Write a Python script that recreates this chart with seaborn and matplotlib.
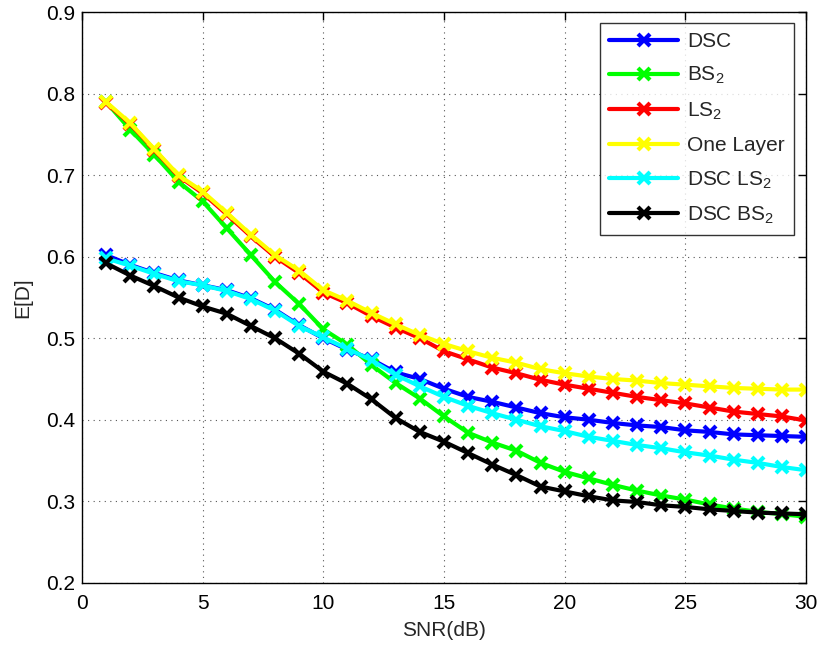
import numpy as np
import pandas as pd
import matplotlib
matplotlib.use("Agg")
import matplotlib.pyplot as plt
import seaborn as sns

snr = list(range(1, 31))
dsc = [0.602, 0.590, 0.580, 0.571, 0.565, 0.559, 0.549, 0.535, 0.516, 0.500, 0.486, 0.474, 0.458, 0.450, 0.438, 0.428, 0.422, 0.415, 0.408, 0.403, 0.400, 0.396, 0.393, 0.391, 0.387, 0.385, 0.382, 0.381, 0.380, 0.379]
bs2 = [0.790, 0.756, 0.725, 0.692, 0.668, 0.635, 0.602, 0.569, 0.542, 0.511, 0.492, 0.467, 0.445, 0.426, 0.404, 0.384, 0.372, 0.362, 0.347, 0.336, 0.328, 0.320, 0.313, 0.307, 0.302, 0.296, 0.291, 0.287, 0.284, 0.281]
ls2 = [0.789, 0.763, 0.731, 0.699, 0.678, 0.652, 0.625, 0.600, 0.580, 0.556, 0.543, 0.527, 0.513, 0.500, 0.484, 0.474, 0.464, 0.457, 0.449, 0.443, 0.438, 0.433, 0.428, 0.424, 0.420, 0.415, 0.410, 0.407, 0.404, 0.399]
one_layer = [0.790, 0.764, 0.732, 0.700, 0.680, 0.654, 0.627, 0.602, 0.583, 0.559, 0.546, 0.531, 0.517, 0.504, 0.493, 0.484, 0.476, 0.470, 0.462, 0.457, 0.453, 0.450, 0.448, 0.445, 0.443, 0.441, 0.439, 0.438, 0.437, 0.437]
dsc_ls2 = [0.598, 0.589, 0.579, 0.570, 0.565, 0.558, 0.548, 0.534, 0.515, 0.501, 0.487, 0.473, 0.455, 0.441, 0.428, 0.417, 0.408, 0.400, 0.392, 0.386, 0.379, 0.374, 0.369, 0.365, 0.360, 0.356, 0.351, 0.347, 0.342, 0.338]
dsc_bs2 = [0.592, 0.577, 0.564, 0.550, 0.539, 0.530, 0.515, 0.500, 0.481, 0.459, 0.444, 0.425, 0.402, 0.385, 0.373, 0.359, 0.345, 0.332, 0.318, 0.312, 0.306, 0.301, 0.299, 0.295, 0.293, 0.290, 0.288, 0.286, 0.285, 0.284]

labels = ["DSC", "BS$_2$", "LS$_2$", "One Layer", "DSC LS$_2$", "DSC BS$_2$"]
series = [dsc, bs2, ls2, one_layer, dsc_ls2, dsc_bs2]
colors = ["#0000ff", "#00ff00", "#ff0000", "#ffff00", "#00ffff", "#000000"]

xticks = [0, 5, 10, 15, 20, 25, 30]
yticks = [0.2, 0.3, 0.4, 0.5, 0.6, 0.7, 0.8, 0.9]

df = pd.concat([pd.DataFrame({"snr": snr, "val": s, "name": l}) for s, l in zip(series, labels)], ignore_index=True)

sns.set_theme(style="white")
plt.rcParams["font.family"] = ["Liberation Sans", "DejaVu Sans"]
plt.rcParams["mathtext.default"] = "regular"

fig = plt.figure(figsize=(8.2, 6.45), dpi=100)
ax = fig.add_axes([0.1, 0.0966, 0.883, 0.8843])

for l, c in zip(labels, colors):
    sub = df[df["name"] == l]
    sns.lineplot(data=sub, x="snr", y="val", color=c, marker="x", markersize=8,
                 markeredgewidth=3, markeredgecolor=c, linewidth=3, label=l, ax=ax)

ax.set_xlim(0, 30)
ax.set_ylim(0.2, 0.9)
ax.set_xticks(xticks)
ax.set_yticks(yticks)
ax.set_xticklabels([str(t) for t in xticks])
ax.set_yticklabels([f"{t:.1f}" for t in yticks])
ax.tick_params(direction="in", top=True, right=True, length=6, width=1, labelsize=15, colors="black", pad=5)
ax.tick_params(axis="x", pad=8)
ax.grid(True, linestyle=(0, (1, 4)), color="#555555", linewidth=0.8)
for sp in ax.spines.values():
    sp.set_color("black")
    sp.set_linewidth(1)
ax.set_xlabel("SNR(dB)", fontsize=15, labelpad=6)
ax.set_ylabel("E[D]", fontsize=15, labelpad=10)

leg = ax.legend(loc="upper right", bbox_to_anchor=(0.984, 0.982), fontsize=15, frameon=True,
                fancybox=False, edgecolor="black", handlelength=3.3, labelspacing=0.68,
                borderpad=0.45, handletextpad=0.45, borderaxespad=0)
leg.get_frame().set_linewidth(1)

fig.savefig("out.png", dpi=100)
